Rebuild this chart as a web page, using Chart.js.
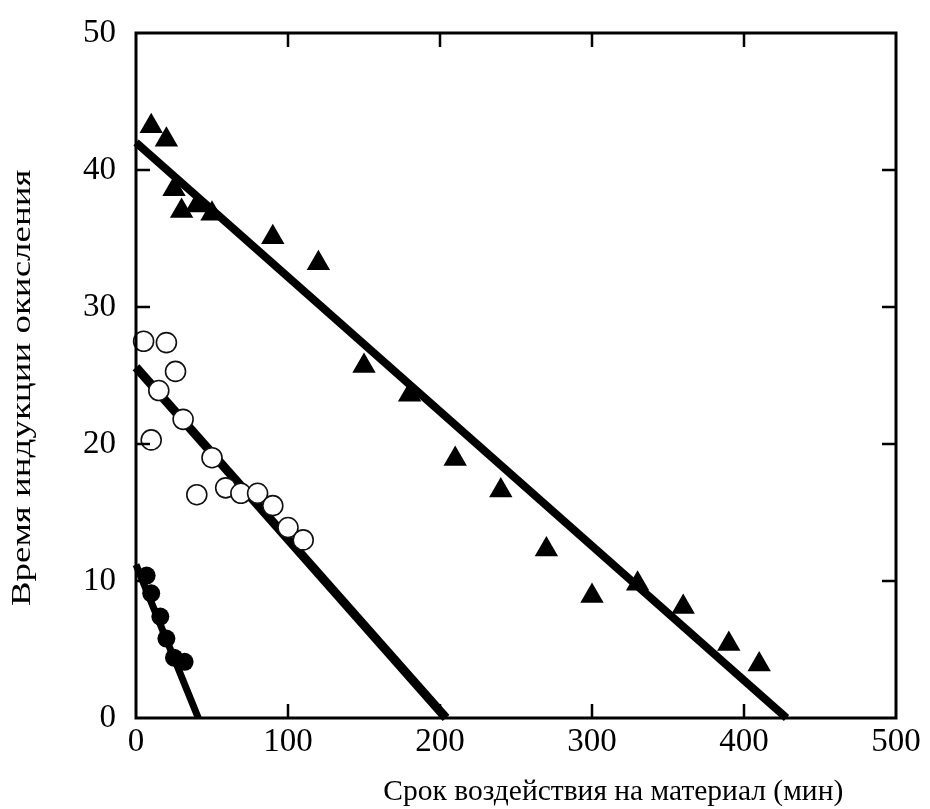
<!DOCTYPE html>
<html>
<head>
    <meta charset="utf-8">
    <title>Время индукции окисления</title>
    <script src="https://cdn.jsdelivr.net/npm/chart.js"></script>
    <style>
        body {
            margin: 0;
            background: #fff;
        }
        canvas {
            display: block;
        }
    </style>
</head>
<body>
    <canvas id="myChart" width="930" height="809"></canvas>

    <script>
        // measured points, x = minutes, y = induction time
        const triX = [10, 20, 25, 30, 40, 50, 90, 120, 150, 180, 210, 240, 270, 300, 330, 360, 390, 410];
        const triY = [43.2, 42.2, 38.6, 37.0, 37.4, 36.8, 35.1, 33.2, 25.7, 23.6, 18.9, 16.6, 12.3, 8.9, 9.8, 8.1, 5.4, 3.9];

        const ringX = [5, 10, 15, 20, 26, 31, 40, 50, 59, 69, 80, 90, 100, 110];
        const ringY = [27.5, 20.3, 23.9, 27.4, 25.3, 21.8, 16.3, 19.0, 16.8, 16.4, 16.4, 15.5, 13.9, 13.0];

        const dotX = [7, 10, 16, 20, 25, 32];
        const dotY = [10.4, 9.1, 7.4, 5.8, 4.4, 4.1];

        // fitted lines: [x at start, x at zero], [y at start, 0]
        const triFitX = [0, 428];
        const triFitY = [42.0, 0];
        const ringFitX = [0, 204];
        const ringFitY = [25.6, 0];
        const dotFitX = [0, 41];
        const dotFitY = [11.2, 0];

        const xTicks = [0, 100, 200, 300, 400, 500];
        const yTicks = [0, 10, 20, 30, 40, 50];

        const xTitle = 'Срок воздействия на материал (мин)';
        const yTitle = 'Время индукции окисления';

        const serif = "'Liberation Serif', 'Times New Roman', serif";

        function pts(xs, ys) {
            return xs.map((x, i) => ({x: x, y: ys[i]}));
        }

        // box around the plot, inward ticks, axis titles
        const framePlugin = {
            id: 'frame',
            afterDatasetsDraw(chart) {
                const ctx = chart.ctx;
                const a = chart.chartArea;
                const xs = chart.scales.x;
                const ys = chart.scales.y;
                const len = 14;
                ctx.save();
                ctx.strokeStyle = '#000';
                ctx.lineWidth = 3;
                ctx.strokeRect(a.left, a.top, a.right - a.left, a.bottom - a.top);
                ctx.lineWidth = 2.5;
                ctx.beginPath();
                xTicks.slice(1, -1).forEach(v => {
                    const px = xs.getPixelForValue(v);
                    ctx.moveTo(px, a.bottom);
                    ctx.lineTo(px, a.bottom - len);
                    ctx.moveTo(px, a.top);
                    ctx.lineTo(px, a.top + len);
                });
                yTicks.slice(1, -1).forEach(v => {
                    const py = ys.getPixelForValue(v);
                    ctx.moveTo(a.left, py);
                    ctx.lineTo(a.left + len, py);
                    ctx.moveTo(a.right, py);
                    ctx.lineTo(a.right - len, py);
                });
                ctx.stroke();

                ctx.fillStyle = '#000';
                ctx.font = '29.5px ' + serif;
                ctx.textAlign = 'center';
                ctx.textBaseline = 'middle';
                ctx.fillText(xTitle, a.left + (a.right - a.left) * 0.628, 792);

                // the vertical title is set a little wider along its length
                ctx.font = '28px ' + serif;
                ctx.translate(23, a.top + (a.bottom - a.top) * 0.518);
                ctx.rotate(-Math.PI / 2);
                ctx.scale(1.32, 1);
                ctx.fillText(yTitle, 0, 0);
                ctx.restore();
            }
        };

        const ctx = document.getElementById('myChart').getContext('2d');
        new Chart(ctx, {
            type: 'scatter',
            data: {
                datasets: [
                    {
                        data: pts(triX, triY),
                        pointStyle: 'triangle',
                        pointRadius: 13.5,
                        backgroundColor: '#000',
                        borderColor: '#000',
                        borderWidth: 0,
                        order: 0
                    },
                    {
                        data: pts(ringX, ringY),
                        pointStyle: 'circle',
                        pointRadius: 10,
                        backgroundColor: '#fff',
                        borderColor: '#111',
                        borderWidth: 1.6,
                        order: 0
                    },
                    {
                        data: pts(dotX, dotY),
                        pointStyle: 'circle',
                        pointRadius: 9,
                        backgroundColor: '#000',
                        borderColor: '#000',
                        borderWidth: 0,
                        order: 0
                    },
                    {
                        type: 'line',
                        data: pts(triFitX, triFitY),
                        borderColor: '#000',
                        borderWidth: 8,
                        pointRadius: 0,
                        order: 1
                    },
                    {
                        type: 'line',
                        data: pts(ringFitX, ringFitY),
                        borderColor: '#000',
                        borderWidth: 9,
                        pointRadius: 0,
                        order: 1
                    },
                    {
                        type: 'line',
                        data: pts(dotFitX, dotFitY),
                        borderColor: '#000',
                        borderWidth: 7,
                        pointRadius: 0,
                        order: 1
                    }
                ]
            },
            options: {
                responsive: false,
                animation: false,
                events: [],
                clip: false,
                layout: {
                    padding: {top: 33, right: 34, left: 0, bottom: 0}
                },
                plugins: {
                    legend: {display: false},
                    tooltip: {enabled: false}
                },
                scales: {
                    x: {
                        type: 'linear',
                        min: 0,
                        max: 500,
                        afterFit: s => { s.height = 91; },
                        afterBuildTicks: s => { s.ticks = xTicks.map(v => ({value: v})); },
                        grid: {display: false, drawTicks: false},
                        border: {display: false},
                        ticks: {
                            color: '#000',
                            padding: 5,
                            font: {family: serif, size: 33}
                        }
                    },
                    y: {
                        type: 'linear',
                        min: 0,
                        max: 50,
                        // label gap should not push the plot down
                        afterFit: s => {
                            s.width = 136;
                            s.paddingTop = 0;
                            s.paddingBottom = 0;
                        },
                        afterBuildTicks: s => { s.ticks = yTicks.map(v => ({value: v})); },
                        grid: {display: false, drawTicks: false},
                        border: {display: false},
                        ticks: {
                            color: '#000',
                            padding: 20,
                            font: {family: serif, size: 33}
                        }
                    }
                }
            },
            plugins: [framePlugin]
        });
    </script>
</body>
</html>
